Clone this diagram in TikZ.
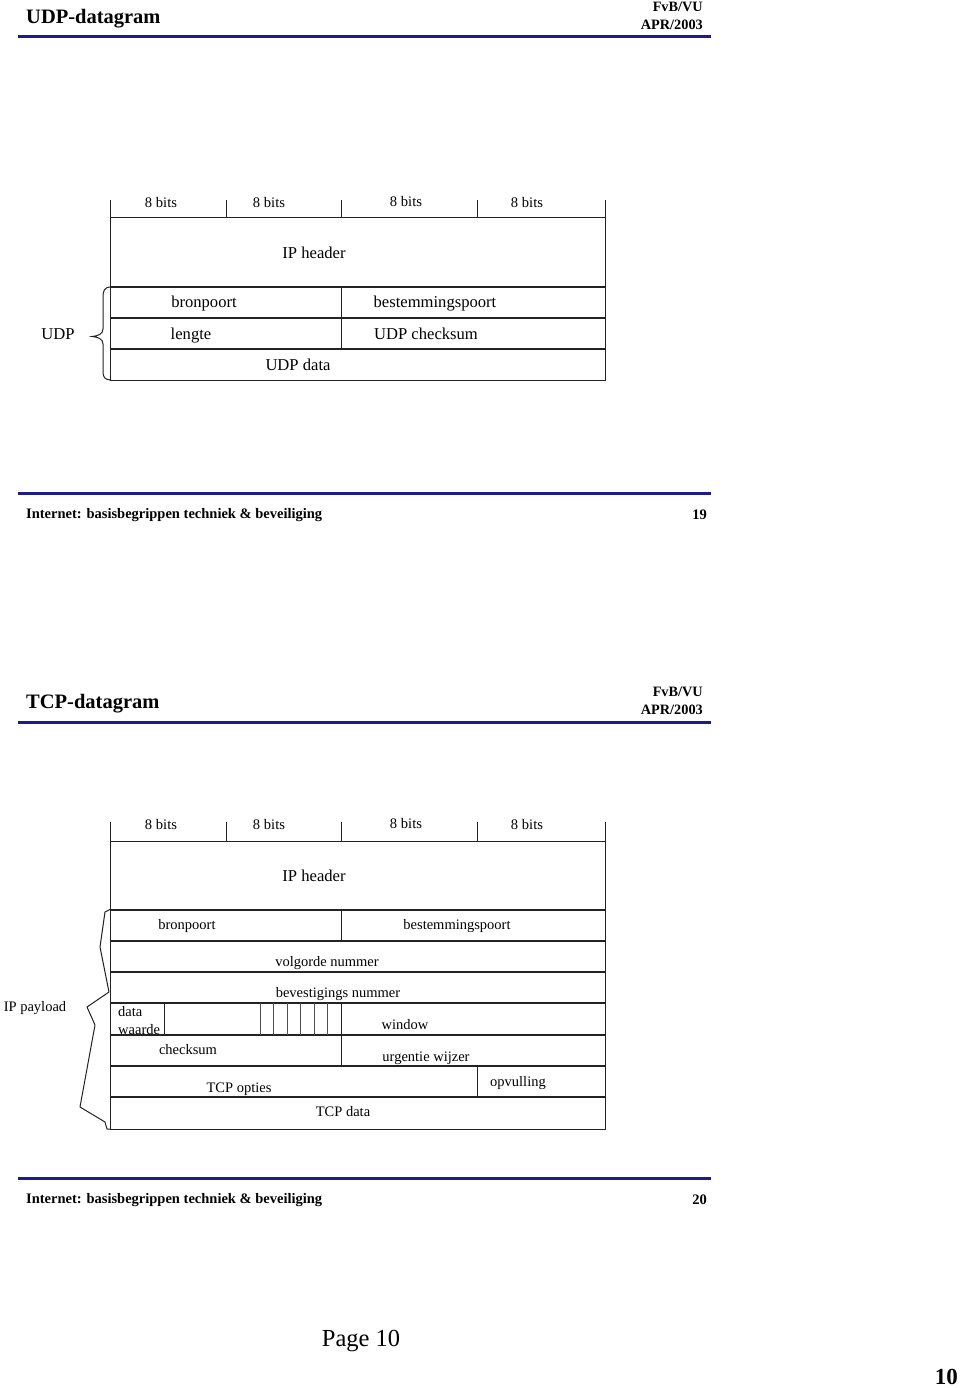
\documentclass[tikz,border=0pt]{standalone}
\usepackage{fontspec}
\setmainfont{Liberation Serif}
\definecolor{navy}{RGB}{28,28,140}
\definecolor{ln}{RGB}{35,35,35}
\begin{document}
\begin{tikzpicture}[x=1pt,y=-1pt,
  every node/.append style={yshift=-1.5pt},
  txt/.style={inner sep=0pt, text height=11pt, text depth=2.3pt, font=\fontsize{14.5}{16}\selectfont},
  big/.style={inner sep=0pt, text height=12.5pt, text depth=2.5pt, font=\fontsize{16.6}{18}\selectfont},
  bits/.style={inner sep=0pt, text height=11pt, text depth=2.3pt, font=\fontsize{14.6}{16}\selectfont},
  ttl/.style={inner sep=0pt, text height=15.5pt, text depth=3.2pt, anchor=west, font=\bfseries\fontsize{20.5}{22}\selectfont},
  meta/.style={inner sep=0pt, text height=11pt, text depth=2.4pt, anchor=east, font=\bfseries\fontsize{14.3}{16}\selectfont},
  foot/.style={inner sep=0pt, text height=11pt, text depth=2.3pt, anchor=west, font=\bfseries\fontsize{14.5}{16}\selectfont},
  pnum/.style={inner sep=0pt, text height=11pt, text depth=2.3pt, anchor=east, font=\bfseries\fontsize{14.5}{16}\selectfont},
  thinl/.style={line width=1pt, draw=ln},
  thickl/.style={line width=2pt, draw=ln},
  finel/.style={line width=0.8pt, draw=ln!80},
  rulebar/.style={line width=3pt, draw=navy},
]
\fill[white] (0,0) rectangle (960,1388);
\useasboundingbox (0,0) rectangle (960,1388);

% ================= UDP slide =================
\node[ttl] (udpt) at (26,16) {UDP-datagram};
\node[meta] (udpm1) at (703,6) {FvB/VU};
\node[meta] (udpm2) at (703,24) {APR/2003};
\draw[rulebar] (18,37) -- (711,37);

% ticks
\foreach \x in {110,226,341,477,605} \draw[thinl] (\x,200) -- (\x,218);
\node[bits] (ub1) at (161,202) {8 bits};
\node[bits] (ub2) at (269,202) {8 bits};
\node[bits] (ub3) at (406,201) {8 bits};
\node[bits] (ub4) at (527,202) {8 bits};

% box
\draw[thinl] (110,218) rectangle (605,380);
\foreach \y in {287,318,349} \draw[thickl] (110,\y) -- (605,\y);
\draw[thinl] (341,287) -- (341,349);

\node[big] (uiph) at (314,252) {IP header};
\node[big] (ubron) at (204,301) {bronpoort};
\node[big] (ubest) at (435,301) {bestemmingspoort};
\node[big] (uleng) at (191,333) {lengte};
\node[big] (uchk) at (426,333) {UDP checksum};
\node[big] (udata) at (298,364) {UDP data};

% brace
\draw[thinl] (111,287) .. controls (104,287) and (103,291) .. (103,298) -- (103,329)
  .. controls (103,334) and (98,336) .. (92,336.5)
  .. controls (98,337) and (103,339) .. (103,344) -- (103,372)
  .. controls (103,377) and (105,380) .. (111,380);
\node[big] (udpl) at (58,333) {UDP};

% footer
\draw[rulebar] (18,493) -- (711,493);
\node[foot] (f1) at (26,513) {Internet: basisbegrippen techniek \& beveiliging};
\node[pnum] (p19) at (707,514) {19};

% ================= TCP slide =================
\node[ttl] (tcpt) at (26,701) {TCP-datagram};
\node[meta] (tcpm1) at (703,691) {FvB/VU};
\node[meta] (tcpm2) at (703,709) {APR/2003};
\draw[rulebar] (18,722) -- (711,722);

\foreach \x in {110,226,341,477,605} \draw[thinl] (\x,822) -- (\x,841);
\node[bits] (tb1) at (161,824) {8 bits};
\node[bits] (tb2) at (269,824) {8 bits};
\node[bits] (tb3) at (406,823) {8 bits};
\node[bits] (tb4) at (527,824) {8 bits};

\draw[thinl] (110,841) rectangle (605,1129);
\foreach \y in {910,941,972,1003,1035,1066,1097} \draw[thickl] (110,\y) -- (605,\y);
\draw[thinl] (341,910) -- (341,941);
\draw[thinl] (164,1003) -- (164,1035);
\foreach \x in {260,273,287,300,314,327} \draw[finel] (\x,1003) -- (\x,1035);
\draw[thinl] (341,1003) -- (341,1066);
\draw[thinl] (477,1066) -- (477,1097);

\node[big] (tiph) at (314,875) {IP header};
\node[txt] (tbron) at (187,924) {bronpoort};
\node[txt] (tbest) at (457,924) {bestemmingspoort};
\node[txt] (tvolg) at (327,961) {volgorde nummer};
\node[txt] (tbev) at (338,992) {bevestigings nummer};
\node[txt, anchor=west] (tdata) at (118,1011) {data};
\node[txt, anchor=west] (twaar) at (118,1029) {waarde};
\node[txt] (twin) at (405,1024) {window};
\node[txt] (tchk) at (188,1049) {checksum};
\node[txt] (turg) at (426,1056) {urgentie wijzer};
\node[txt] (topt) at (239,1087) {TCP opties};
\node[txt] (topv) at (518,1081) {opvulling};
\node[txt] (tdat) at (343,1111) {TCP data};

% brace
\draw[thinl, line join=round] (111,909) -- (105,912) -- (100,947) -- (109,992) -- (87,1007)
  -- (95,1025) -- (80,1107) -- (105,1122) -- (107,1129) -- (111,1129);
\node[txt] (tpay) at (35,1006) {IP payload};

% footer
\draw[rulebar] (18,1178) -- (711,1178);
\node[foot] (f2) at (26,1198) {Internet: basisbegrippen techniek \& beveiliging};
\node[pnum] (p20) at (707,1199) {20};

% page
\node[inner sep=0pt, text height=18.5pt, text depth=3.8pt, font=\fontsize{24.5}{26}\selectfont] (page) at (361,1338) {Page 10};
\node[inner sep=0pt, text height=17.4pt, text depth=3.6pt, anchor=east, font=\bfseries\fontsize{23}{25}\selectfont] (pg10) at (958,1376) {10};
\end{tikzpicture}
\end{document}
